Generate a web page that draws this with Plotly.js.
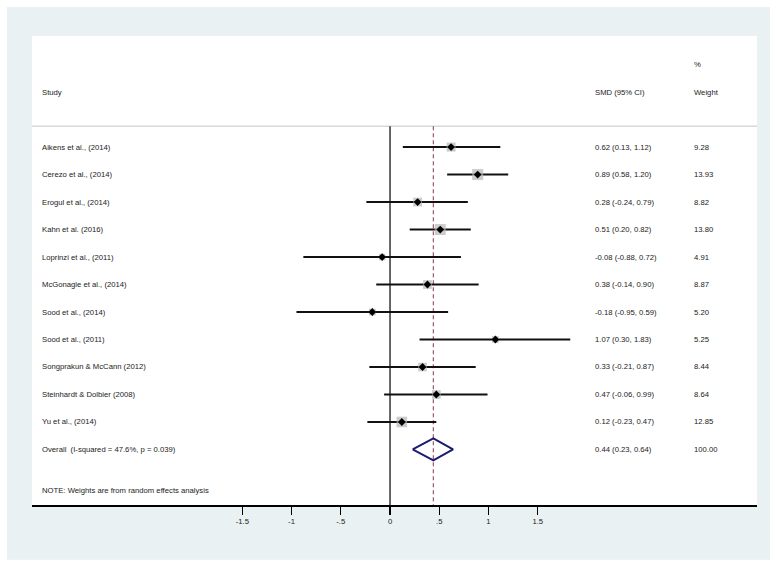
<!DOCTYPE html>
<html><head><meta charset="utf-8">
<script src="https://cdn.plot.ly/plotly-3.0.1.min.js"></script>
<style>html,body{margin:0;padding:0;background:#fff;}#chart{width:776px;height:567px;}</style>
</head><body><div id="chart"></div>
<script>
const studies = ["Aikens et al., (2014)","Cerezo et al., (2014)","Erogul et al., (2014)","Kahn et al. (2016)","Loprinzi et al., (2011)","McGonagle et al., (2014)","Sood et al., (2014)","Sood et al., (2011)","Songprakun & McCann (2012)","Steinhardt & Dolbier (2008)","Yu et al., (2014)"];
const smd   = [0.62, 0.89, 0.28, 0.51, -0.08, 0.38, -0.18, 1.07, 0.33, 0.47, 0.12];
const lower = [0.13, 0.58, -0.24, 0.20, -0.88, -0.14, -0.95, 0.30, -0.21, -0.06, -0.23];
const upper = [1.12, 1.20, 0.79, 0.82, 0.72, 0.90, 0.59, 1.83, 0.87, 0.99, 0.47];
const weights = [9.28, 13.93, 8.82, 13.80, 4.91, 8.87, 5.20, 5.25, 8.44, 8.64, 12.85];
const overallLabel = "Overall  (I-squared = 47.6%, p = 0.039)";
const overallSmd = 0.44, overallLower = 0.23, overallUpper = 0.64, overallWeight = 100.00;
const noteText = "NOTE: Weights are from random effects analysis";
const tickVals = [-1.5, -1, -0.5, 0, 0.5, 1, 1.5];
const tickText = ["-1.5", "-1", "-.5", "0", ".5", "1", "1.5"];

const rows = studies.map((_, i) => i);
const overallRow = studies.length;
const noteRow = overallRow + 1.5;
const headerRow = -2, pctRow = -3, sepRow = -0.76;
const yTop = -4.04, yBottom = 13.02;

const fmt = v => v.toFixed(2);
const font = {family: "Liberation Sans, Arial, sans-serif", size: 7.7, color: "#222"};

const traces = [
  {
    type: "scatter", mode: "markers", x: smd, y: rows, hoverinfo: "skip",
    marker: {symbol: "square", size: weights.map(w => Math.sqrt(w) * 2.95), color: "#b6b6b6", line: {width: 0}},
    error_x: {type: "data", symmetric: false, array: upper.map((u, i) => u - smd[i]), arrayminus: lower.map((l, i) => smd[i] - l), width: 0, thickness: 2, color: "#111"}
  },
  {
    type: "scatter", mode: "markers", x: smd, y: rows, hoverinfo: "skip",
    marker: {symbol: "diamond", size: 6, color: "#000"}
  },
  {
    type: "scatter", mode: "lines", hoverinfo: "skip",
    x: [overallLower, overallSmd, overallUpper, overallSmd, overallLower],
    y: [overallRow, overallRow - 0.4, overallRow, overallRow + 0.4, overallRow],
    line: {color: "#1c1c6e", width: 2}
  }
];

const annotations = [];
const colStudy = 0.011, colSmd = 0.774, colW = 0.91;
function txt(x, y, t) {
  annotations.push({xref: "paper", yref: "y", x: x, y: y, text: t, showarrow: false, xanchor: "left", yanchor: "middle", font: font});
}
txt(colStudy, headerRow, "Study");
txt(colSmd, headerRow, "SMD (95% CI)");
txt(colW, pctRow, "%");
txt(colW, headerRow, "Weight");
studies.forEach((s, i) => {
  txt(colStudy, i, s);
  txt(colSmd, i, fmt(smd[i]) + " (" + fmt(lower[i]) + ", " + fmt(upper[i]) + ")");
  txt(colW, i, fmt(weights[i]));
});
txt(colStudy, overallRow, overallLabel);
txt(colSmd, overallRow, fmt(overallSmd) + " (" + fmt(overallLower) + ", " + fmt(overallUpper) + ")");
txt(colW, overallRow, fmt(overallWeight));
txt(colStudy, noteRow, noteText);

const shapes = [
  {type: "rect", xref: "paper", yref: "paper", x0: -0.0345, x1: 1.018, y0: -0.117, y1: 1.062, fillcolor: "#e9f1f3", line: {width: 0}, layer: "below"},
  {type: "rect", xref: "paper", yref: "paper", x0: 0, x1: 1, y0: 0, y1: 1, fillcolor: "#ffffff", line: {width: 0}, layer: "below"},
  {type: "line", xref: "paper", yref: "y", x0: 0, x1: 1, y0: sepRow, y1: sepRow, line: {color: "#c4c4c4", width: 1}, layer: "below"},
  {type: "line", xref: "x", yref: "y", x0: 0, x1: 0, y0: sepRow, y1: yBottom, line: {color: "#000", width: 1.2}, layer: "below"},
  {type: "line", xref: "x", yref: "y", x0: overallSmd, x1: overallSmd, y0: sepRow, y1: yBottom, line: {color: "#9a5a66", width: 1.2, dash: "4px,3px"}, layer: "below"}
];

const layout = {
  width: 776, height: 567,
  margin: {l: 32, r: 19, t: 36, b: 62},
  paper_bgcolor: "#ffffff", plot_bgcolor: "rgba(0,0,0,0)",
  showlegend: false,
  font: font,
  xaxis: {
    range: [-3.635, 3.726], showgrid: false, zeroline: false,
    showline: true, linecolor: "#000", linewidth: 1.5,
    ticks: "outside", ticklen: 8, tickwidth: 1.2, tickcolor: "#000",
    tickvals: tickVals, ticktext: tickText, tickfont: font, fixedrange: true
  },
  yaxis: {range: [yBottom, yTop], visible: false, fixedrange: true},
  shapes: shapes, annotations: annotations
};

Plotly.newPlot("chart", traces, layout, {displayModeBar: false, staticPlot: true});
</script>
</body></html>
